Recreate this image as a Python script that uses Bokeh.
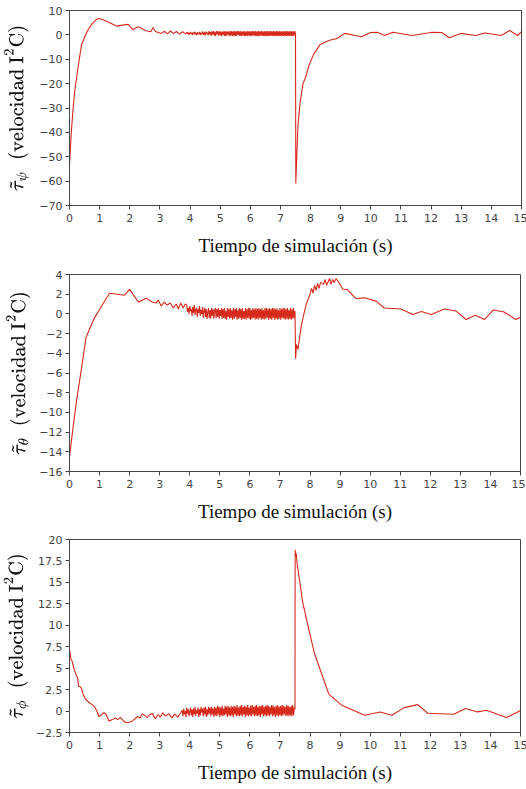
from bokeh.plotting import figure
from bokeh.layouts import column
from bokeh.models import Range1d, FixedTicker
from bokeh.embed import file_html
from bokeh.resources import INLINE

# ---------------- data ----------------
x_ticks = [0, 1, 2, 3, 4, 5, 6, 7, 8, 9, 10, 11, 12, 13, 14, 15]
noise_dt = 0.025

# tau_psi
psi_t_a = [0, 0.06, 0.12, 0.18, 0.3, 0.4, 0.5, 0.62, 0.75, 0.88, 0.95, 1.1, 1.3, 1.56, 1.75,
           1.95, 2.1, 2.28, 2.4, 2.5, 2.7, 2.77, 2.85, 2.95, 3.05, 3.15, 3.25, 3.35, 3.45,
           3.55, 3.65, 3.75, 3.85]
psi_v_a = [-53.5, -40, -30, -22.4, -12, -4, -1, 2.2, 4.5, 6.2, 6.7, 6.3, 5.2, 3.6, 4.0,
           4.3, 2.2, 3.3, 2.6, 1.8, 1.3, 3.0, 1.4, 1.0, 0.6, 1.5, 0.4, 1.6, 0.5,
           1.4, 0.3, 1.3, 0.4]
psi_noise_t0 = 3.9
psi_noise = [1.1, 0.3, 0.9, 0.0, 1.2, 0.5, 0.8, -0.1, 1.0, 0.4, 1.3, 0.1, 0.9, -0.2, 1.1, 0.6,
             0.2, 1.2, -0.1, 0.8, 0.3, 1.4, 0.0, 1.0, -0.3, 1.3, 0.5, 0.9, -0.2, 1.5, 0.2, 1.1,
             -0.4, 1.4, 0.1, 1.5, -0.2, 1.2, -0.5, 1.5, 0.3, 1.6, -0.3, 1.3, -0.1, 1.5, -0.5, 1.2,
             0.0, 1.6, -0.4, 1.4, -0.5, 1.5, 0.1, 1.3, -0.5, 1.6, -0.2, 1.5, -0.5, 1.4, -0.3, 1.6,
             -0.5, 1.4, -0.4, 1.6, 0.0, 1.5, -0.4, 1.6, -0.5, 1.3, -0.2, 1.6, -0.5, 1.5, -0.4, 1.4,
             -0.5, 1.6, -0.3, 1.5, -0.5, 1.4, -0.4, 1.6, -0.2, 1.5, -0.5, 1.6, -0.4, 1.5, -0.5, 1.6,
             -0.5, 1.5, -0.3, 1.6, -0.4, 1.5, -0.5, 1.4, -0.4, 1.6, -0.5, 1.6, -0.4, 1.5, -0.5, 1.6,
             -0.3, 1.5, -0.5, 1.6, -0.4, 1.4, -0.5, 1.6, -0.4, 1.5, -0.5, 1.6, -0.4, 1.5, -0.5, 1.5,
             -0.4, 1.6, -0.5, 1.5, -0.4, 1.6, -0.5, 1.5, -0.4, 1.6, -0.5, 1.4, -0.4, 1.6, -0.5, 1.5]
psi_t_b = [7.5, 7.51, 7.53, 7.58, 7.65, 7.75, 7.83, 7.94, 8.1, 8.32, 8.6, 8.88, 9.13, 9.69,
           9.99, 10.21, 10.46, 10.73, 11.37, 12.04, 12.35, 12.6, 12.98, 13.48, 13.79, 14.33,
           14.61, 14.87, 15.0]
psi_v_b = [0.5, -61, -54, -37.5, -28, -20, -17.6, -12.8, -8, -3.9, -2.3, -1.5, 0.6, -0.8,
           1.0, 1.1, -0.25, 1.1, -0.25, 1.1, 1.0, -1.2, 0.6, -0.25, 0.8, -0.25,
           1.8, -0.25, 1.3]

# tau_theta
th_t_a = [0, 0.12, 0.24, 0.4, 0.55, 0.7, 0.83, 1.0, 1.15, 1.33, 1.6, 1.83, 2.0, 2.15, 2.3,
          2.55, 2.75, 2.88, 2.95, 3.05, 3.15, 3.25, 3.35, 3.45, 3.55, 3.62, 3.7, 3.78, 3.85]
th_v_a = [-14.5, -11.5, -8.7, -5.5, -2.4, -1.3, -0.4, 0.45, 1.2, 2.1, 2.0, 1.9, 2.5, 1.8, 1.2,
          1.6, 1.2, 1.1, 1.4, 0.8, 1.2, 0.9, 1.1, 0.6, 1.0, 0.5, 1.1, 0.6, 1.0]
th_noise_t0 = 3.9
th_noise = [0.9, 0.2, 0.6, 0.0, 0.8, 0.3, 0.5, -0.2, 0.7, 0.1, 0.9, -0.1, 0.4, 0.6, -0.3, 0.5,
            0.1, 0.8, -0.2, 0.4, 0.0, 0.7, -0.4, 0.3, 0.6, -0.3, 0.5, -0.5, 0.2, 0.6, -0.4, 0.4,
            -0.5, 0.6, -0.2, 0.5, -0.5, 0.3, 0.6, -0.4, 0.5, -0.3, 0.6, -0.5, 0.4, -0.2, 0.6, -0.5,
            0.5, -0.4, 0.6, -0.5, 0.3, -0.6, 0.6, -0.3, 0.5, -0.5, 0.6, -0.4, 0.4, -0.6, 0.6, -0.5,
            0.5, -0.3, 0.6, -0.6, 0.4, -0.5, 0.6, -0.4, 0.5, -0.6, 0.6, -0.5, 0.3, -0.5, 0.6, -0.6,
            0.5, -0.4, 0.6, -0.5, 0.6, -0.6, 0.4, -0.5, 0.6, -0.4, 0.5, -0.6, 0.6, -0.5, 0.5, -0.6,
            0.6, -0.4, 0.5, -0.6, 0.6, -0.5, 0.4, -0.6, 0.6, -0.5, 0.6, -0.4, 0.5, -0.6, 0.6, -0.5,
            0.5, -0.6, 0.6, -0.4, 0.6, -0.6, 0.5, -0.5, 0.6, -0.6, 0.4, -0.5, 0.6, -0.6, 0.5, -0.4,
            0.6, -0.5, 0.6, -0.6, 0.5, -0.5, 0.6, -0.6, 0.4, -0.5, 0.6, -0.6, 0.5, -0.5, 0.6, -0.4]
th_t_b = [7.5, 7.52, 7.55, 7.6, 7.65, 7.7, 7.78, 7.87, 7.95, 8.0, 8.05, 8.1, 8.15, 8.2, 8.25,
          8.3, 8.35, 8.45, 8.5, 8.55, 8.65, 8.7, 8.75, 8.8, 8.87, 9.1, 9.25, 9.53, 9.81, 10.2,
          10.47, 11.02, 11.42, 11.7, 12.03, 12.47, 12.85, 13.19, 13.5, 13.8, 14.1, 14.46,
          14.85, 15.0]
th_v_b = [0.3, -4.56, -3.1, -3.6, -2.5, -1.4, -0.2, 0.95, 1.6, 2.0, 2.6, 2.1, 2.9, 2.4, 3.1,
          2.6, 3.2, 3.0, 3.5, 2.9, 3.6, 3.0, 3.5, 3.2, 3.6, 2.5, 2.45, 1.56, 1.63, 1.3,
          0.6, 0.5, -0.06, 0.25, -0.06, 0.5, 0.3, -0.57, -0.13, -0.57, 0.4, 0.2,
          -0.57, -0.35]

# tau_phi
ph_t_a = [0, 0.05, 0.09, 0.15, 0.23, 0.27, 0.3, 0.38, 0.45, 0.53, 0.65, 0.81, 0.9, 0.98, 1.05,
          1.14, 1.22, 1.31, 1.42, 1.53, 1.6, 1.69, 1.78, 1.87, 2.0, 2.09, 2.18, 2.26, 2.35,
          2.42, 2.5, 2.59, 2.66, 2.76, 2.85, 2.95, 3.02, 3.1, 3.2, 3.3, 3.4, 3.5, 3.6, 3.7]
ph_v_a = [7.2, 6.0, 5.8, 4.9, 4.1, 3.9, 2.9, 2.8, 2.0, 1.4, 1.0, 0.6, 0.1, -0.64, -0.5,
          -0.17, -0.4, -1.15, -1.0, -0.8, -1.0, -0.75, -1.1, -1.34, -1.3, -1.15, -0.9, -0.64, -0.8,
          -0.3, -0.5, -0.75, -0.4, -0.3, -0.9, -0.4, -0.7, -0.2, -0.6, -0.3, -0.8, -0.35, -0.7, -0.2]
ph_noise_t0 = 3.75
ph_noise = [0.1, -0.6, 0.3, -0.4, 0.0, -0.7, 0.4, -0.3, 0.2, -0.6, -0.1, 0.4, -0.5, 0.2, -0.7, 0.3,
            -0.4, 0.5, -0.6, 0.1, -0.3, 0.4, -0.7, 0.2, -0.5, 0.5, -0.2, 0.3, -0.6, 0.4, -0.4, 0.5,
            -0.7, 0.2, -0.5, 0.5, -0.3, 0.4, -0.6, 0.5, -0.4, 0.3, -0.7, 0.5, -0.5, 0.4, -0.6, 0.6,
            -0.4, 0.5, -0.7, 0.4, -0.5, 0.6, -0.6, 0.3, -0.5, 0.6, -0.4, 0.5, -0.7, 0.6, -0.5, 0.4,
            -0.6, 0.6, -0.5, 0.5, -0.7, 0.6, -0.4, 0.5, -0.6, 0.7, -0.5, 0.4, -0.6, 0.6, -0.5, 0.7,
            -0.6, 0.5, -0.4, 0.6, -0.7, 0.5, -0.5, 0.7, -0.6, 0.4, -0.5, 0.6, -0.6, 0.7, -0.4, 0.5,
            -0.6, 0.6, -0.5, 0.7, -0.6, 0.5, -0.5, 0.6, -0.7, 0.6, -0.4, 0.7, -0.6, 0.5, -0.5, 0.6,
            -0.6, 0.7, -0.5, 0.6, -0.6, 0.5, -0.4, 0.7, -0.6, 0.6, -0.5, 0.5, -0.7, 0.6, -0.5, 0.7,
            -0.6, 0.5, -0.5, 0.6, -0.6, 0.7, -0.5, 0.6, -0.4, 0.5, -0.6, 0.7, -0.5, 0.6, -0.6, 0.5,
            -0.5, 0.6, -0.6, 0.7, -0.5, 0.4]
ph_t_b = [7.5, 7.505, 7.52, 7.54, 7.57, 7.65, 7.75, 7.92, 8.14, 8.4, 8.63, 9.06, 9.81, 10.33,
          10.72, 11.13, 11.58, 11.92, 12.78, 13.17, 13.57, 13.87, 14.53, 14.97, 15.0]
ph_v_b = [0.2, 18.8, 18.0, 18.4, 17.2, 15.3, 12.8, 10.1, 6.8, 4.2, 1.95, 0.67, -0.49, -0.1,
          -0.49, 0.4, 0.75, -0.26, -0.37, 0.29, -0.1, 0.1, -0.76, 0.0, 0.1]

psi_ticks = [-70, -60, -50, -40, -30, -20, -10, 0, 10]
th_ticks = [-16, -14, -12, -10, -8, -6, -4, -2, 0, 2, 4]
ph_ticks = [-2.5, 0, 2.5, 5, 7.5, 10, 12.5, 15, 17.5, 20]

LINE = "#d62a1c"
AXC = "#444444"


def build(t_a, v_a, t0, noise, t_b, v_b):
    t_n = [round(t0 + i * noise_dt, 4) for i in range(len(noise))]
    return t_a + t_n + t_b, v_a + noise + v_b


def make(t, v, yr, yticks, ylabel, frame_w, frame_h, top, bottom, left, right, ylab_standoff):
    p = figure(frame_width=frame_w, frame_height=frame_h,
               x_range=Range1d(0, 15), y_range=Range1d(*yr),
               output_backend="svg", toolbar_location=None,
               min_border_left=left, min_border_right=right,
               min_border_top=top, min_border_bottom=bottom)
    p.line(t, v, line_color=LINE, line_width=1.1)
    p.grid.visible = False
    p.outline_line_color = AXC
    p.outline_line_width = 1
    p.background_fill_color = "white"
    p.border_fill_color = "white"
    p.xaxis.ticker = FixedTicker(ticks=x_ticks)
    p.yaxis.ticker = FixedTicker(ticks=yticks)
    for ax in (p.xaxis[0], p.yaxis[0]):
        ax.axis_line_color = AXC
        ax.major_tick_line_color = AXC
        ax.major_tick_out = 4
        ax.major_tick_in = 0
        ax.minor_tick_line_color = None
        ax.major_label_text_font = "DejaVu Sans"
        ax.major_label_text_font_size = "11px"
        ax.major_label_text_color = "#444444"
        ax.major_label_standoff = 3
        ax.axis_label_text_font = "Liberation Serif"
        ax.axis_label_text_font_size = "19px"
        ax.axis_label_text_font_style = "normal"
        ax.axis_label_text_color = "#111111"
    p.xaxis.major_label_standoff = 4
    p.xaxis.axis_label = "Tiempo de simulación (s)"
    p.xaxis.axis_label_standoff = 10
    p.yaxis.axis_label = ylabel
    p.yaxis.axis_label_standoff = ylab_standoff
    return p


t1, v1 = build(psi_t_a, psi_v_a, psi_noise_t0, psi_noise, psi_t_b, psi_v_b)
t2, v2 = build(th_t_a, th_v_a, th_noise_t0, th_noise, th_t_b, th_v_b)
t3, v3 = build(ph_t_a, ph_v_a, ph_noise_t0, ph_noise, ph_t_b, ph_v_b)

p1 = make(t1, v1, (-70, 10), psi_ticks,
          r"$$\tilde{\tau}_{\psi}\;\;\text{(velocidad I}^2\text{C)}$$", 452, 195, 10, 60, 59, 6, 7)
p2 = make(t2, v2, (-16, 4), th_ticks,
          r"$$\tilde{\tau}_{\theta}\;\;\text{(velocidad I}^2\text{C)}$$", 451, 197, 9, 60, 59, 7, 6)
p3 = make(t3, v3, (-2.5, 20), ph_ticks,
          r"$$\tilde{\tau}_{\phi}\;\;\text{(velocidad I}^2\text{C)}$$", 451, 193, 8, 55, 60, 7, 4)

layout = column(p1, p2, p3, spacing=0)
open("out.html", "w").write(file_html(layout, INLINE))
